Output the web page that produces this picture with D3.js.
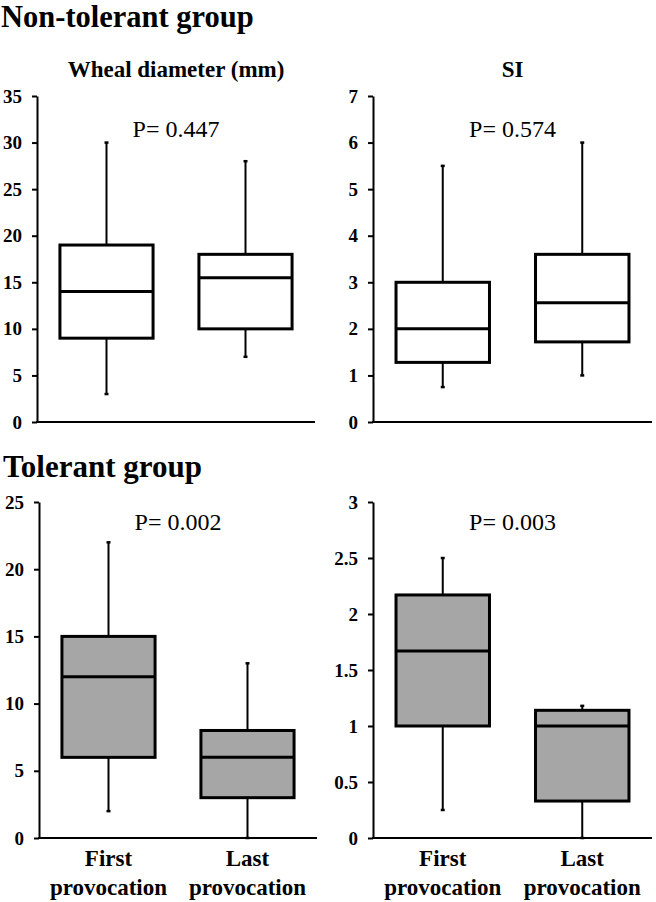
<!DOCTYPE html>
<html>
<head>
<meta charset="utf-8">
<script src="https://cdn.jsdelivr.net/npm/d3@7"></script>
<style>
  html, body { margin: 0; padding: 0; background: #fff; }
  svg { display: block; }
  svg text { font-family: 'Liberation Serif', 'Times New Roman', serif; }
</style>
</head>
<body>
<script>
// ---- Data ----
const categories = ["First provocation", "Last provocation"];

// Non-tolerant group: wheal diameter (mm) [min, q1, median, q3, max]
const nonTolWheal = [[3, 9, 14, 19, 30], [7, 10, 15.5, 18, 28]];
// Non-tolerant group: SI
const nonTolSI = [[0.75, 1.28, 2.0, 3.0, 5.5], [1.0, 1.72, 2.56, 3.6, 6.0]];
// Tolerant group: wheal diameter (mm)
const tolWheal = [[2, 6, 12, 15, 22], [0, 3, 6, 8, 13]];
// Tolerant group: SI
const tolSI = [[0.25, 1.0, 1.67, 2.17, 2.5], [0, 0.33, 1.0, 1.14, 1.18]];

const pValues = ["P= 0.447", "P= 0.574", "P= 0.002", "P= 0.003"];
const tickWheal35 = [0, 5, 10, 15, 20, 25, 30, 35];
const tickSI7 = [0, 1, 2, 3, 4, 5, 6, 7];
const tickWheal25 = [0, 5, 10, 15, 20, 25];
const tickSI3 = [0, 0.5, 1, 1.5, 2, 2.5, 3];
const groupTitles = ["Non-tolerant group", "Tolerant group"];
const panelTitles = ["Wheal diameter (mm)", "SI"];

// ---- Layout ----
const W = 656, H = 902;
const svg = d3.select("body").append("svg").attr("width", W).attr("height", H);
const serif = "'Liberation Serif', 'Times New Roman', serif";

const panels = [
  { data: nonTolWheal, ticks: tickWheal35, p: pValues[0], x0: 37, x1: 315, y0: 422, y1: 96, fill: "#fff", pY: 137, title: panelTitles[0], xlabels: false },
  { data: nonTolSI, ticks: tickSI7, p: pValues[1], x0: 373, x1: 652, y0: 422, y1: 96, fill: "#fff", pY: 137, title: panelTitles[1], xlabels: false },
  { data: tolWheal, ticks: tickWheal25, p: pValues[2], x0: 39, x1: 317, y0: 838, y1: 502, fill: "#a6a6a6", pY: 530, title: null, xlabels: true },
  { data: tolSI, ticks: tickSI3, p: pValues[3], x0: 373, x1: 652, y0: 838, y1: 502, fill: "#a6a6a6", pY: 530, title: null, xlabels: true }
];

// Group titles
svg.append("text").attr("x", 1).attr("y", 27)
  .style("font-family", serif).attr("font-weight", "bold").attr("font-size", 30.5)
  .text(groupTitles[0]);
svg.append("text").attr("x", 3).attr("y", 477)
  .style("font-family", serif).attr("font-weight", "bold").attr("font-size", 31)
  .text(groupTitles[1]);

panels.forEach(pn => {
  const g = svg.append("g");
  const y = d3.scaleLinear().domain([d3.min(pn.ticks), d3.max(pn.ticks)]).range([pn.y0, pn.y1]);
  const x = d3.scalePoint().domain(categories).range([pn.x0, pn.x1]).padding(0.5);
  const boxW = x.step() * 0.67;
  const capW = 4;

  // Y axis
  const yAxis = d3.axisLeft(y).tickValues(pn.ticks).tickSize(5).tickSizeOuter(0).tickPadding(10)
    .tickFormat(d => String(d));
  const ya = g.append("g").attr("transform", `translate(${pn.x0},0)`).call(yAxis);
  ya.attr("font-family", null);
  ya.select(".domain").attr("stroke", "#000").attr("stroke-width", 2);
  ya.selectAll(".tick line").attr("stroke", "#000").attr("stroke-width", 2);
  ya.selectAll(".tick text").style("font-family", serif).attr("font-weight", "bold")
    .attr("font-size", 19).attr("fill", "#000");

  // X axis line
  g.append("line").attr("x1", pn.x0 - 1).attr("x2", pn.x1).attr("y1", y(0)).attr("y2", y(0))
    .attr("stroke", "#000").attr("stroke-width", 2);

  // Boxes
  pn.data.forEach((d, i) => {
    const cx = x(categories[i]);
    const [mn, q1, md, q3, mx] = d;
    const bg = g.append("g");
    // whiskers
    bg.append("line").attr("x1", cx).attr("x2", cx).attr("y1", y(q3)).attr("y2", y(mx))
      .attr("stroke", "#000").attr("stroke-width", 2);
    bg.append("line").attr("x1", cx).attr("x2", cx).attr("y1", y(q1)).attr("y2", y(mn))
      .attr("stroke", "#000").attr("stroke-width", 2);
    // caps
    [mn, mx].forEach(v => {
      bg.append("line").attr("x1", cx - capW / 2).attr("x2", cx + capW / 2)
        .attr("y1", y(v)).attr("y2", y(v)).attr("stroke", "#000").attr("stroke-width", 2.5);
    });
    // box
    bg.append("rect").attr("x", cx - boxW / 2).attr("width", boxW)
      .attr("y", y(q3)).attr("height", y(q1) - y(q3))
      .attr("fill", pn.fill).attr("stroke", "#000").attr("stroke-width", 3);
    // median
    bg.append("line").attr("x1", cx - boxW / 2).attr("x2", cx + boxW / 2)
      .attr("y1", y(md)).attr("y2", y(md)).attr("stroke", "#000").attr("stroke-width", 3);
  });

  // P value
  g.append("text").attr("x", (pn.x0 + pn.x1) / 2).attr("y", pn.pY)
    .attr("text-anchor", "middle").style("font-family", serif).attr("font-size", 24)
    .text(pn.p);

  // Panel title
  if (pn.title) {
    g.append("text").attr("x", (pn.x0 + pn.x1) / 2).attr("y", 77)
      .attr("text-anchor", "middle").style("font-family", serif).attr("font-weight", "bold")
      .attr("font-size", 23).text(pn.title);
  }

  // X labels
  if (pn.xlabels) {
    categories.forEach(c => {
      const words = c.split(" ");
      const t = g.append("text").attr("text-anchor", "middle").style("font-family", serif)
        .attr("font-weight", "bold").attr("font-size", 23);
      t.append("tspan").attr("x", x(c)).attr("y", 866).text(words[0]);
      t.append("tspan").attr("x", x(c)).attr("y", 895).text(words[1]);
    });
  }
});
</script>
</body>
</html>
